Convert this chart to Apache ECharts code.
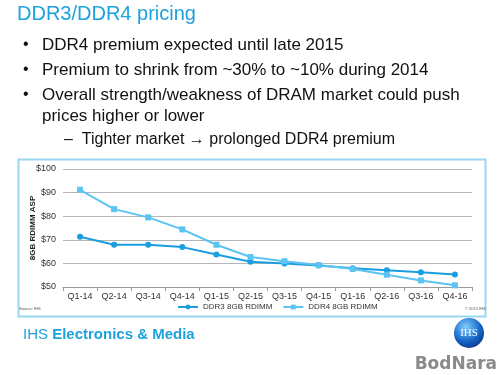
<!DOCTYPE html>
<html>
<head>
<meta charset="utf-8">
<script src="https://cdn.jsdelivr.net/npm/echarts@6/dist/echarts.min.js"></script>
<style>
  html, body { margin: 0; padding: 0; background: #fff; }
  #chart { width: 500px; height: 375px; }
</style>
</head>
<body>
<div id="chart"></div>
<script>
const quarters = ["Q1-14", "Q2-14", "Q3-14", "Q4-14", "Q1-15", "Q2-15", "Q3-15", "Q4-15", "Q1-16", "Q2-16", "Q3-16", "Q4-16"];
const ddr3 = [71.3, 67.9, 67.9, 66.9, 63.8, 60.7, 60.0, 59.1, 57.9, 57.1, 56.2, 55.3];
const ddr4 = [91.2, 83.0, 79.5, 74.4, 67.9, 62.7, 60.9, 59.3, 57.6, 55.2, 52.8, 50.7];
const seriesNames = ["DDR3 8GB RDIMM", "DDR4 8GB RDIMM"];

const bullets = [
  "DDR4 premium expected until late 2015",
  "Premium to shrink from ~30% to ~10% during 2014",
  "Overall strength/weakness of DRAM market could push",
  "prices higher or lower"
];

const FONT = "Liberation Sans, Arial, sans-serif";
const BLUE_DARK = "#1a9ee0";
const BLUE_LIGHT = "#5cc4f2";

const chart = echarts.init(document.getElementById("chart"), null, { renderer: "canvas" });

function textEl(x, y, text, style) {
  return { type: "text", left: x, top: y, style: Object.assign({ text, fontFamily: FONT, fill: "#111" }, style) };
}

const bulletY = [37, 62, 87, 108];
const graphics = [
  // titre de la diapo
  textEl(17, 4, "DDR3/DDR4 pricing", { fontSize: 20, fill: "#1ea2dd" }),
  // cadre du graphique
  {
    type: "rect", left: 16, top: 157,
    shape: { width: 467, height: 157 },
    style: { fill: "none", stroke: "#9ad8f2", lineWidth: 2 }
  },
  // titre de l'axe Y (texte tourne, place a la main)
  {
    type: "text", x: 33, y: 228, rotation: Math.PI / 2,
    style: { text: "8GB RDIMM ASP", fontSize: 8, fontWeight: "bold", fill: "#222", fontFamily: FONT, align: "center", verticalAlign: "middle" }
  },
  textEl(64, 132, "\u2013  Tighter market \u2192 prolonged DDR4 premium", { fontSize: 16 }),
  textEl(19, 307, "Source: IHS", { fontSize: 4, fill: "#555" }),
  textEl(465, 307, "\u00a9 2013 IHS", { fontSize: 4, fill: "#555" }),
  {
    type: "text", left: 23, top: 327,
    style: {
      text: "{a|IHS }{b|Electronics & Media}",
      fontFamily: FONT,
      rich: {
        a: { fontSize: 15, fill: "#1ea2dd", fontFamily: FONT },
        b: { fontSize: 15, fill: "#1ea2dd", fontWeight: "bold", fontFamily: FONT }
      }
    }
  },
  // logo IHS
  {
    type: "circle", shape: { cx: 469, cy: 333, r: 15 },
    style: {
      fill: new echarts.graphic.RadialGradient(0.4, 0.3, 0.8, [
        { offset: 0, color: "#7fd0ff" },
        { offset: 0.6, color: "#1565c8" },
        { offset: 1, color: "#0a2f80" }
      ])
    }
  },
  {
    type: "text", x: 469, y: 333,
    style: { text: "IHS", fontSize: 11, fill: "#fff", fontFamily: "Liberation Serif, serif", align: "center", verticalAlign: "middle" }
  },
  {
    type: "text", right: 3, top: 356,
    style: { text: "BodNara", fontSize: 17, fill: "#8a8a8a", fontWeight: "bold", fontFamily: "DejaVu Sans, sans-serif" }
  }
];
bullets.forEach((b, i) => {
  if (i < 3) graphics.push(textEl(23, bulletY[i], "\u2022", { fontSize: 16 }));
  graphics.push(textEl(42, bulletY[i], b, { fontSize: 17 }));
});

chart.setOption({
  animation: false,
  textStyle: { fontFamily: FONT },
  grid: { left: 63, right: 28, top: 169, bottom: 88 },
  legend: {
    data: seriesNames,
    top: 298,
    left: 172,
    itemWidth: 20,
    itemHeight: 6,
    itemGap: 10,
    textStyle: { fontSize: 8, color: "#333", fontFamily: FONT }
  },
  xAxis: {
    type: "category",
    data: quarters,
    boundaryGap: true,
    axisLine: { lineStyle: { color: "#999", width: 1 } },
    axisTick: { show: true, lineStyle: { color: "#999" }, length: 4 },
    axisLabel: { fontSize: 9, color: "#333", margin: 5 }
  },
  yAxis: {
    type: "value",
    min: 50,
    max: 100,
    interval: 10,
    axisLine: { show: false },
    axisTick: { show: false },
    axisLabel: { fontSize: 9, color: "#333", margin: 7, formatter: (v) => "$" + v },
    splitLine: { lineStyle: { color: "#b5b5b5", width: 1 } }
  },
  series: [
    {
      name: seriesNames[0],
      type: "line",
      data: ddr3,
      symbol: "circle",
      symbolSize: 6,
      lineStyle: { color: BLUE_DARK, width: 2 },
      itemStyle: { color: BLUE_DARK }
    },
    {
      name: seriesNames[1],
      type: "line",
      data: ddr4,
      symbol: "rect",
      symbolSize: 6,
      lineStyle: { color: BLUE_LIGHT, width: 2 },
      itemStyle: { color: BLUE_LIGHT }
    }
  ],
  graphic: graphics
});
</script>
</body>
</html>
